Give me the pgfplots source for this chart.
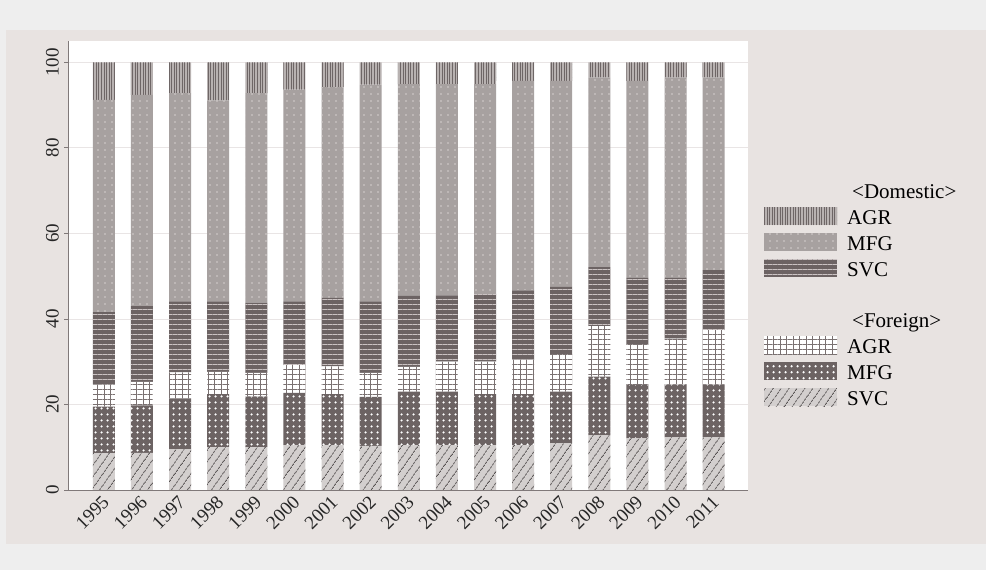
\documentclass[border=0pt]{standalone}
\usepackage{fontspec}
\setmainfont{Liberation Serif}
\usepackage{pgfplots}
\usepackage{pgfplotstable}
\pgfplotsset{compat=1.18}
\usetikzlibrary{patterns.meta}

\definecolor{topband}{HTML}{EEEEEE}
\definecolor{panel}{HTML}{E8E3E1}
\definecolor{darkbar}{HTML}{6C6363}
\definecolor{midgray}{HTML}{A7A1A0}
\definecolor{agrbg}{HTML}{B8B2B1}
\definecolor{agrline}{HTML}{6E6666}
\definecolor{dotlight}{HTML}{D4CECD}
\definecolor{lineslight}{HTML}{CBC3C3}
\definecolor{gridc}{HTML}{7A7171}
\definecolor{svcbg}{HTML}{D3CFCE}
\definecolor{hatchc}{HTML}{555050}
\definecolor{axisc}{HTML}{807979}
\definecolor{gridl}{HTML}{E9E5E5}

\tikzset{
 dagr/.style={draw=none, fill=agrbg, postaction={draw=none, pattern={Lines[angle=90,distance=2.6bp,line width=1bp]}, pattern color=agrline}},
 dmfg/.style={draw=none, fill=midgray, postaction={draw=none, pattern={Dots[distance=7bp,radius=0.8bp]}, pattern color=dotlight}},
 dsvc/.style={draw=none, fill=darkbar, postaction={draw=none, pattern={Lines[angle=0,distance=5bp,line width=1bp]}, pattern color=lineslight}},
 fagr/.style={draw=none, fill=white, postaction={draw=none, pattern={Lines[angle=0,distance=5bp,line width=1bp]}, pattern color=gridc}, postaction={draw=none, pattern={Lines[angle=90,distance=6.5bp,line width=1bp]}, pattern color=gridc}},
 fmfg/.style={draw=none, fill=darkbar, postaction={draw=none, pattern={Dots[distance=6bp,radius=1.4bp]}, pattern color=white}},
 fsvc/.style={draw=none, fill=svcbg, postaction={draw=none, pattern={Lines[angle=55,distance=6bp,line width=1bp]}, pattern color=hatchc}},
}

\pgfplotstableread{
x fsvc fmfg fagr dsvc dmfg dagr
0 8.6 10.9 5.2 16.9 49.6 8.8
1 8.7 11.1 5.5 17.7 49.4 7.6
2 9.5 11.9 6.1 16.6 48.7 7.2
3 10.0 12.4 5.2 16.5 47.0 8.9
4 10.0 11.9 5.5 16.4 49.0 7.2
5 10.5 12.2 6.5 14.9 49.5 6.4
6 10.5 11.9 6.5 16.0 49.3 5.8
7 10.3 11.5 5.6 16.7 50.7 5.2
8 10.5 12.5 5.8 16.6 49.5 5.1
9 10.5 12.5 7.0 15.5 49.4 5.1
10 10.5 11.9 7.6 15.8 49.1 5.1
11 10.5 11.9 8.1 16.2 49.0 4.3
12 10.9 12.1 8.8 15.7 48.2 4.3
13 12.8 13.7 11.8 13.8 44.4 3.5
14 12.1 12.4 9.6 15.5 46.1 4.3
15 12.3 12.4 10.7 14.2 46.9 3.5
16 12.3 12.4 12.7 14.0 45.1 3.5
}\data

\begin{document}
\begin{tikzpicture}[x=1bp,y=1bp]
\useasboundingbox (0,0) rectangle (986,570);
\fill[topband] (0,0) rectangle (986,570);
\fill[panel] (6,26) rectangle (986,540);
\begin{axis}[
  at={(68bp,80bp)}, anchor=south west,
  scale only axis, width=680bp, height=449bp,
  xmin=-0.94, xmax=16.9, ymin=0, ymax=105,
  ybar stacked, bar width=22bp,
  axis background/.style={fill=white},
  axis x line*=bottom, axis y line*=left,
  axis line style={draw=axisc, line width=0.9bp},
  xtick={0,...,16},
  xticklabels={1995,1996,1997,1998,1999,2000,2001,2002,2003,2004,2005,2006,2007,2008,2009,2010,2011},
  x tick style={draw=none},
  ytick={0,20,40,60,80,100},
  y tick style={draw=axisc, line width=0.8bp},
  tick align=outside, major tick length=4bp,
  ymajorgrids, grid style={draw=gridl, line width=0.8bp},
  /pgf/number format/assume math mode=true,
  tick label style={font=\fontsize{19bp}{21bp}\selectfont, text=black!85},
  yticklabel style={rotate=90, anchor=south, inner sep=5bp},
  xticklabel style={rotate=45, anchor=east, inner sep=1bp, yshift=-5bp, xshift=-1bp},
  legend style={at={(1.0235,0.679)}, anchor=north west, draw=none, fill=none,
    font=\fontsize{21bp}{23bp}\selectfont, row sep=4bp, inner sep=0pt,
    nodes={inner sep=0pt, text height=13bp, text depth=5bp}},
  legend cell align=left,
]
\addplot[fsvc, forget plot] table[x=x, y=fsvc] {\data};
\addplot[fmfg, forget plot] table[x=x, y=fmfg] {\data};
\addplot[fagr, forget plot] table[x=x, y=fagr] {\data};
\addplot[dsvc, forget plot] table[x=x, y=dsvc] {\data};
\addplot[dmfg, forget plot] table[x=x, y=dmfg] {\data};
\addplot[dagr, forget plot] table[x=x, y=dagr] {\data};

\addlegendimage{empty legend}\addlegendentry{\hspace*{5bp}<Domestic>}
\addlegendimage{draw=none, legend image code/.code={\path[dagr] (0bp,-5bp) rectangle (73bp,13bp); \path (83bp,0bp);}}\addlegendentry{AGR}
\addlegendimage{draw=none, legend image code/.code={\path[dmfg] (0bp,-5bp) rectangle (73bp,13bp); \path (83bp,0bp);}}\addlegendentry{MFG}
\addlegendimage{draw=none, legend image code/.code={\path[dsvc] (0bp,-5bp) rectangle (73bp,13bp); \path (83bp,0bp);}}\addlegendentry{SVC}
\addlegendimage{draw=none, legend image code/.code={\path (0bp,-12bp) rectangle (1bp,13bp);}}\addlegendentry{\mbox{}}
\addlegendimage{empty legend}\addlegendentry{\hspace*{5bp}<Foreign>}
\addlegendimage{draw=none, legend image code/.code={\path[fagr] (0bp,-5bp) rectangle (73bp,13bp); \path (83bp,0bp);}}\addlegendentry{AGR}
\addlegendimage{draw=none, legend image code/.code={\path[fmfg] (0bp,-5bp) rectangle (73bp,13bp); \path (83bp,0bp);}}\addlegendentry{MFG}
\addlegendimage{draw=none, legend image code/.code={\path[fsvc] (0bp,-5bp) rectangle (73bp,13bp); \path (83bp,0bp);}}\addlegendentry{SVC}
\end{axis}
\end{tikzpicture}
\end{document}
